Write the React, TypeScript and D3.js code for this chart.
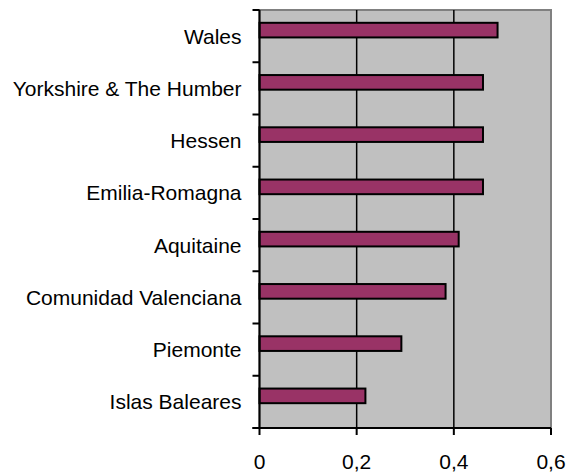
import * as d3 from "d3";

const regions = [
  "Wales",
  "Yorkshire & The Humber",
  "Hessen",
  "Emilia-Romagna",
  "Aquitaine",
  "Comunidad Valenciana",
  "Piemonte",
  "Islas Baleares",
];
const values = [0.49, 0.46, 0.46, 0.46, 0.41, 0.383, 0.292, 0.218];
const xTicks = [0, 0.2, 0.4, 0.6];

const W = 571;
const H = 475;
const margin = { top: 10, right: 20, bottom: 47, left: 259.5 };
const font = "'Liberation Sans', Arial, sans-serif";

export default function App() {
  const x = d3
    .scaleLinear()
    .domain([0, 0.6])
    .range([margin.left, W - margin.right]);
  const y = d3
    .scaleBand()
    .domain(regions)
    .range([margin.top, H - margin.bottom]);
  const bw = y.bandwidth();
  const bottom = H - margin.bottom;
  const boundaries = d3.range(regions.length + 1).map((i) => margin.top + i * bw);

  return (
    <div style={{ position: "absolute", left: 0, top: 0, background: "#fff" }}>
      <svg width={W} height={H} style={{ display: "block" }}>
        {/* plot area */}
        <rect
          x={x(0)}
          y={margin.top}
          width={x(0.6) - x(0)}
          height={bottom - margin.top}
          fill="#C0C0C0"
          stroke="#808080"
          strokeWidth={2}
        />
        {/* gridlines */}
        {xTicks.slice(1, -1).map((t) => (
          <line key={t} x1={x(t)} x2={x(t)} y1={margin.top} y2={bottom} stroke="#000" strokeWidth={1.5} />
        ))}
        {/* bars */}
        {regions.map((r, i) => (
          <rect
            key={r}
            x={x(0)}
            y={(y(r) || 0) + bw * 0.245}
            width={x(values[i]) - x(0)}
            height={bw * 0.28}
            fill="#993366"
            stroke="#000"
            strokeWidth={2}
          />
        ))}
        {/* axes */}
        <line x1={x(0)} x2={x(0)} y1={margin.top} y2={bottom} stroke="#000" strokeWidth={2} />
        <line x1={x(0) - 7} x2={x(0.6)} y1={bottom} y2={bottom} stroke="#000" strokeWidth={2} />
        {boundaries.map((b, i) => (
          <line key={i} x1={x(0) - 7} x2={x(0)} y1={b} y2={b} stroke="#000" strokeWidth={2} />
        ))}
        {xTicks.map((t) => (
          <g key={t}>
            <line x1={x(t)} x2={x(t)} y1={bottom} y2={bottom + 7} stroke="#000" strokeWidth={2} />
            <text
              x={x(t)}
              y={bottom + 41}
              textAnchor="middle"
              fontFamily={font}
              fontSize={21}
              fill="#000"
            >
              {d3.format(".1f")(t).replace(".", ",").replace(/^0,0$/, "0")}
            </text>
          </g>
        ))}
        {regions.map((r) => (
          <text
            key={r}
            x={x(0) - 18}
            y={(y(r) || 0) + bw / 2}
            dy="0.36em"
            textAnchor="end"
            fontFamily={font}
            fontSize={21}
            fill="#000"
          >
            {r}
          </text>
        ))}
      </svg>
    </div>
  );
}
